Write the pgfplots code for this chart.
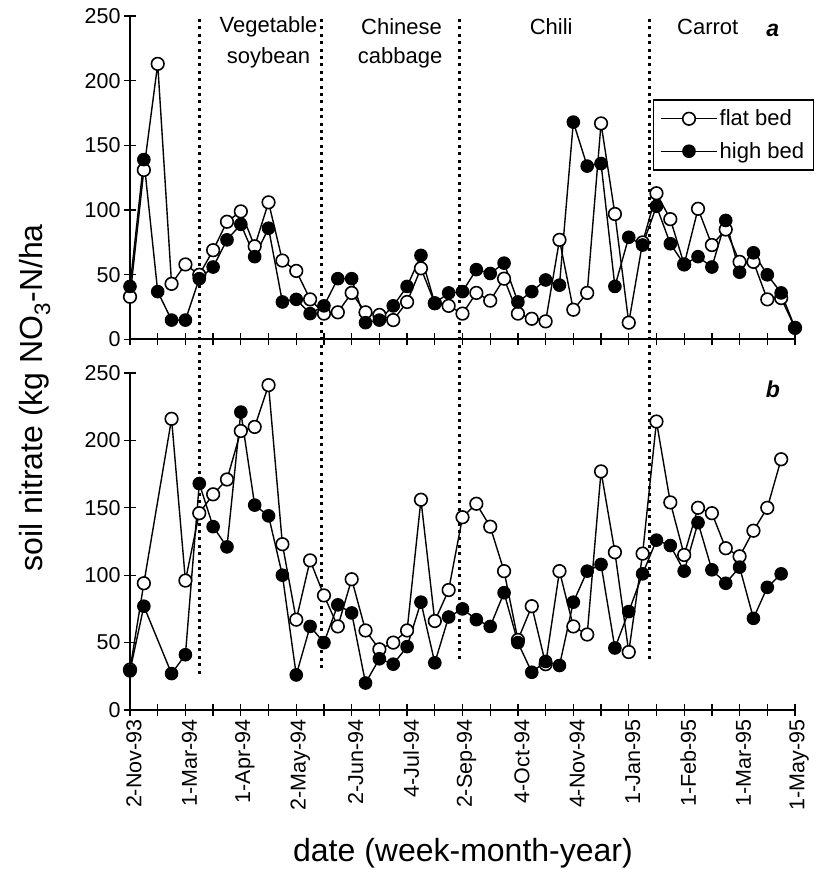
\documentclass[border=0pt]{standalone}
\usepackage{fontspec}
\setmainfont{Liberation Sans}
\setsansfont{Liberation Sans}
\usepackage{pgfplots}
\pgfplotsset{compat=1.18}

\pgfplotsset{
 panel/.style={
  scale only axis, width=665pt,
  xmin=0, xmax=48, ymin=0, ymax=250,
  axis x line*=bottom, axis y line*=left,
  axis line style={line width=2pt},
  xtick={0,2,...,48}, ytick={0,50,...,250},
  tick align=center, major tick length=12pt,
  tick style={line width=1.3pt, black},
  /pgf/number format/assume math mode=true,
  ticklabel style={font=\fontsize{21.5}{25}\selectfont},
  clip=false,
 },
}
\tikzset{
 flat/.style={black, line width=1.4pt, mark=*, mark size=6.3pt, mark options={fill=white, line width=1.6pt}},
 high/.style={black, line width=1.4pt, mark=*, mark size=6.3pt, mark options={fill=black, line width=1pt}},
 sep/.style={black, line width=3pt, dash pattern=on 3pt off 4.4pt},
 croplab/.style={font=\fontsize{22}{26}\selectfont, anchor=center},
}

\begin{document}
\begin{tikzpicture}
\path[use as bounding box] (0pt,0pt) rectangle (816pt,872pt);

% ---------- top panel (a) ----------
\begin{axis}[panel, height=323.5pt, at={(130pt,532.5pt)}, anchor=south west,
  xticklabels={},
  legend style={at={(0.786,0.742)}, anchor=north west, draw=black, line width=1.2pt,
     font=\fontsize{22}{26}\selectfont, legend cell align=left, row sep=11pt,
     inner xsep=7pt, inner ysep=8pt},
  legend image code/.code={\draw[#1, mark repeat=2, mark phase=2] plot coordinates {(0pt,0pt) (28pt,0pt) (56pt,0pt)};},
]
\addplot[sep, forget plot] coordinates {(5.05,-12) (5.05,250)};
\addplot[sep, forget plot] coordinates {(13.8,-12) (13.8,250)};
\addplot[sep, forget plot] coordinates {(23.8,-12) (23.8,250)};
\addplot[sep, forget plot] coordinates {(37.5,-12) (37.5,250)};

\addplot[flat] coordinates {
(0,33) (1,131) (2,213) (3,43) (4,58) (5,50) (6,69) (7,91) (8,99) (9,72)
(10,106) (11,61) (12,53) (13,31) (14,20) (15,21) (16,36) (17,21) (18,19) (19,15)
(20,29) (21,55) (22,28) (23,26) (24,20) (25,36) (26,30) (27,47) (28,20) (29,16)
(30,14) (31,77) (32,23) (33,36) (34,167) (35,97) (36,13) (37,75) (38,113) (39,93)
(40,58) (41,101) (42,73) (43,85) (44,60) (45,60) (46,31) (47,32) (48,9)};
\addlegendentry{flat bed}
\addplot[high] coordinates {
(0,41) (1,139) (2,37) (3,15) (4,15) (5,47) (6,56) (7,77) (8,89) (9,64)
(10,86) (11,29) (12,31) (13,20) (14,26) (15,47) (16,47) (17,13) (18,15) (19,26)
(20,41) (21,65) (22,28) (23,36) (24,37) (25,54) (26,51) (27,59) (28,29) (29,37)
(30,46) (31,42) (32,168) (33,134) (34,136) (35,41) (36,79) (37,73) (38,103) (39,74)
(40,58) (41,64) (42,56) (43,92) (44,52) (45,67) (46,50) (47,36) (48,9)};
\addlegendentry{high bed}

\node[croplab] at (axis cs:10.0,241.5) {Vegetable};
\node[croplab] at (axis cs:10.0,218) {soybean};
\node[croplab] at (axis cs:19.6,241.5) {Chinese};
\node[croplab] at (axis cs:19.5,218) {cabbage};
\node[croplab] at (axis cs:30.4,241.5) {Chili};
\node[croplab] at (axis cs:41.7,241.5) {Carrot};
\node[font=\fontsize{23}{27}\selectfont\bfseries\itshape] at (axis cs:46.4,239) {a};
\end{axis}

% ---------- bottom panel (b) ----------
\begin{axis}[panel, height=337pt, at={(130pt,162pt)}, anchor=south west,
  xticklabels={2-Nov-93,,1-Mar-94,,1-Apr-94,,2-May-94,,2-Jun-94,,4-Jul-94,,2-Sep-94,,4-Oct-94,,4-Nov-94,,1-Jan-95,,1-Feb-95,,1-Mar-95,,1-May-95},
  x tick label style={rotate=90, anchor=east, yshift=-4pt},
]
\addplot[sep, forget plot] coordinates {(5.05,27) (5.05,260)};
\addplot[sep, forget plot] coordinates {(13.8,31) (13.8,260)};
\addplot[sep, forget plot] coordinates {(23.8,38) (23.8,260)};
\addplot[sep, forget plot] coordinates {(37.5,38) (37.5,260)};

\addplot[flat] coordinates {
(0,30) (1,94) (3,216) (4,96) (5,146) (6,160) (7,171) (8,207) (9,210)
(10,241) (11,123) (12,67) (13,111) (14,85) (15,62) (16,97) (17,59) (18,45) (19,50)
(20,59) (21,156) (22,66) (23,89) (24,143) (25,153) (26,136) (27,103) (28,52) (29,77)
(30,34) (31,103) (32,62) (33,56) (34,177) (35,117) (36,43) (37,116) (38,214) (39,154)
(40,115) (41,150) (42,146) (43,120) (44,114) (45,133) (46,150) (47,186)};
\addplot[high] coordinates {
(0,29) (1,77) (3,27) (4,41) (5,168) (6,136) (7,121) (8,221) (9,152)
(10,144) (11,100) (12,26) (13,62) (14,50) (15,78) (16,72) (17,20) (18,38) (19,34)
(20,47) (21,80) (22,35) (23,69) (24,75) (25,67) (26,62) (27,87) (28,50) (29,28)
(30,36) (31,33) (32,80) (33,103) (34,108) (35,46) (36,73) (37,101) (38,126) (39,122)
(40,103) (41,139) (42,104) (43,94) (44,106) (45,68) (46,91) (47,101)};

\node[font=\fontsize{23}{27}\selectfont\bfseries\itshape] at (axis cs:46.4,237.6) {b};
\end{axis}

\node[rotate=90, font=\fontsize{32}{38}\selectfont] at (35pt,474pt) {soil nitrate (kg NO\textsubscript{3}-N/ha};
\node[font=\fontsize{32}{38}\selectfont] at (463pt,19pt) {date (week-month-year)};
\end{tikzpicture}
\end{document}
